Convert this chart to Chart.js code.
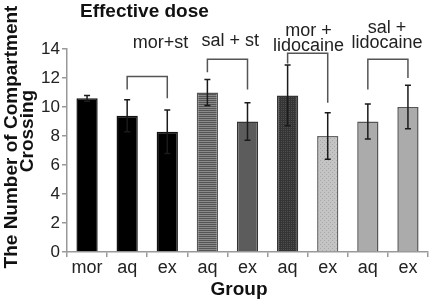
<!DOCTYPE html>
<html>
<head>
<meta charset="utf-8">
<script src="https://cdn.jsdelivr.net/npm/chart.js@4/dist/chart.umd.min.js"></script>
<style>
html,body{margin:0;padding:0;background:#fff;}
#wrap{width:431px;height:300px;position:relative;}
</style>
</head>
<body>
<div id="wrap"><canvas id="c" width="431" height="300"></canvas></div>
<script>
// ---- data ----
const categories = ["mor","aq","ex","aq","ex","aq","ex","aq","ex"];
const means  = [10.6, 9.4, 8.3, 11.0, 9.0, 10.8, 8.0, 9.0, 10.0];
const errors = [0.2, 1.1, 1.5, 0.9, 1.3, 2.1, 1.6, 1.2, 1.5];
const yTicks = [0, 2, 4, 6, 8, 10, 12, 14];
const chartTitle = "Effective dose";
const xTitle = "Group";
const yTitleLines = ["The Number of Compartment", "Crossing"];
// brackets: [leftCat, rightCat, topValue, leftLegBottom, rightLegBottom]
const bracketLeft   = [1, 3, 5, 7];
const bracketRight  = [2, 4, 6, 8];
const bracketTop    = [12.1, 13.3, 13.7, 13.3];
const bracketLegL   = [11.2, 12.4, 13.0, 11.2];
const bracketLegR   = [10.6, 11.2, 10.3, 12.0];
// bracket labels: lines, x (fractional category), y values per line
const bracketLabels = [["mor+st"], ["sal + st"], ["mor +", "lidocaine"], ["sal +", "lidocaine"]];
const labelX = [1.83, 3.57, 5.52, 7.48];
const labelY = [[14.4], [14.55], [15.24, 14.2], [15.45, 14.4]];

// ---- styles ----
function pattern(base, line, kind){
  const p = document.createElement('canvas');
  p.width = 4; p.height = 4;
  const g = p.getContext('2d');
  g.fillStyle = base; g.fillRect(0,0,4,4);
  g.fillStyle = line;
  if (kind === 'h') { g.fillRect(0,0,4,1); g.fillRect(0,2,4,1); }
  else if (kind === 'grid') { g.fillRect(0,0,4,1); g.fillRect(0,2,4,1); g.fillRect(0,0,1,4); g.fillRect(2,0,1,4); }
  else if (kind === 'dot') { g.fillRect(0,0,1,1); g.fillRect(2,2,1,1); }
  return document.getElementById('c').getContext('2d').createPattern(p, 'repeat');
}
const fills = [
  '#000000', '#000000', '#000000',
  pattern('#8a8a8a', '#555555', 'h'),
  '#5c5c5c',
  pattern('#4e4e4e', '#353535', 'grid'),
  pattern('#c4c4c4', '#a8a8a8', 'dot'),
  '#ababab', '#ababab'
];
const borders = ['#111','#111','#111','#555','#333','#333','#666','#555','#555'];

const FONT = "'Liberation Sans', Arial, sans-serif";

const overlay = {
  id: 'overlay',
  afterDatasetsDraw(chart) {
    const ctx = chart.ctx;
    const xs = chart.scales.x, ys = chart.scales.y;
    ctx.save();
    // error bars
    ctx.strokeStyle = '#1a1a1a';
    ctx.lineWidth = 1.5;
    means.forEach((m, i) => {
      const x = xs.getPixelForValue(i);
      const t = ys.getPixelForValue(m + errors[i]);
      const b = ys.getPixelForValue(m - errors[i]);
      ctx.beginPath();
      ctx.moveTo(x, t); ctx.lineTo(x, b);
      ctx.moveTo(x - 3, t); ctx.lineTo(x + 3, t);
      ctx.moveTo(x - 3, b); ctx.lineTo(x + 3, b);
      ctx.stroke();
    });
    // brackets
    ctx.strokeStyle = '#555';
    ctx.lineWidth = 1.5;
    bracketLeft.forEach((l, k) => {
      const xl = xs.getPixelForValue(l), xr = xs.getPixelForValue(bracketRight[k]);
      const yt = ys.getPixelForValue(bracketTop[k]);
      ctx.beginPath();
      ctx.moveTo(xl, ys.getPixelForValue(bracketLegL[k]));
      ctx.lineTo(xl, yt); ctx.lineTo(xr, yt);
      ctx.lineTo(xr, ys.getPixelForValue(bracketLegR[k]));
      ctx.stroke();
    });
    // bracket labels
    ctx.fillStyle = '#222';
    ctx.font = "18px " + FONT;
    ctx.textAlign = 'center';
    ctx.textBaseline = 'middle';
    bracketLabels.forEach((lines, k) => {
      const x = xs.getPixelForValue(0) + (xs.getPixelForValue(1) - xs.getPixelForValue(0)) * labelX[k];
      lines.forEach((t, j) => ctx.fillText(t, x, ys.getPixelForValue(labelY[k][j])));
    });
    // titles
    ctx.fillStyle = '#111';
    ctx.font = "bold 19px " + FONT;
    ctx.textAlign = 'left';
    ctx.fillText(chartTitle, 80, 12);
    ctx.textAlign = 'center';
    ctx.fillText(xTitle, 239, 290);
    ctx.translate(0, 0);
    ctx.save();
    ctx.translate(0, 137);
    ctx.rotate(-Math.PI / 2);
    ctx.fillText(yTitleLines[0], 0, 12);
    ctx.fillText(yTitleLines[1], 6, 28);
    ctx.restore();
    ctx.restore();
  }
};

new Chart(document.getElementById('c'), {
  type: 'bar',
  data: {
    labels: categories,
    datasets: [{
      data: means,
      backgroundColor: fills,
      borderColor: borders,
      borderWidth: 1.5,
      barPercentage: 0.53,
      categoryPercentage: 1.0
    }]
  },
  options: {
    responsive: false,
    animation: false,
    devicePixelRatio: 1,
    layout: { padding: { top: 49, right: 3, left: 0, bottom: 0 } },
    plugins: { legend: { display: false }, title: { display: false }, tooltip: { enabled: false } },
    scales: {
      x: {
        offset: true,
        grid: { offset: true, drawOnChartArea: false, drawTicks: true, tickLength: 5, color: '#999', lineWidth: 1.5 },
        border: { color: '#999', width: 1.5 },
        ticks: { color: '#222', font: { size: 18, family: FONT }, padding: 0, maxRotation: 0 },
        afterFit(s) { s.height = 48; }
      },
      y: {
        min: 0, max: 14,
        afterBuildTicks(s) { s.ticks = yTicks.map(v => ({ value: v })); },
        grid: { drawOnChartArea: false, drawTicks: true, tickLength: 5, color: '#999', lineWidth: 1.5 },
        border: { color: '#999', width: 1.5 },
        ticks: { color: '#222', font: { size: 17, family: FONT }, padding: 2 },
        afterFit(s) { s.width = 67; }
      }
    }
  },
  plugins: [overlay]
});
</script>
</body>
</html>
